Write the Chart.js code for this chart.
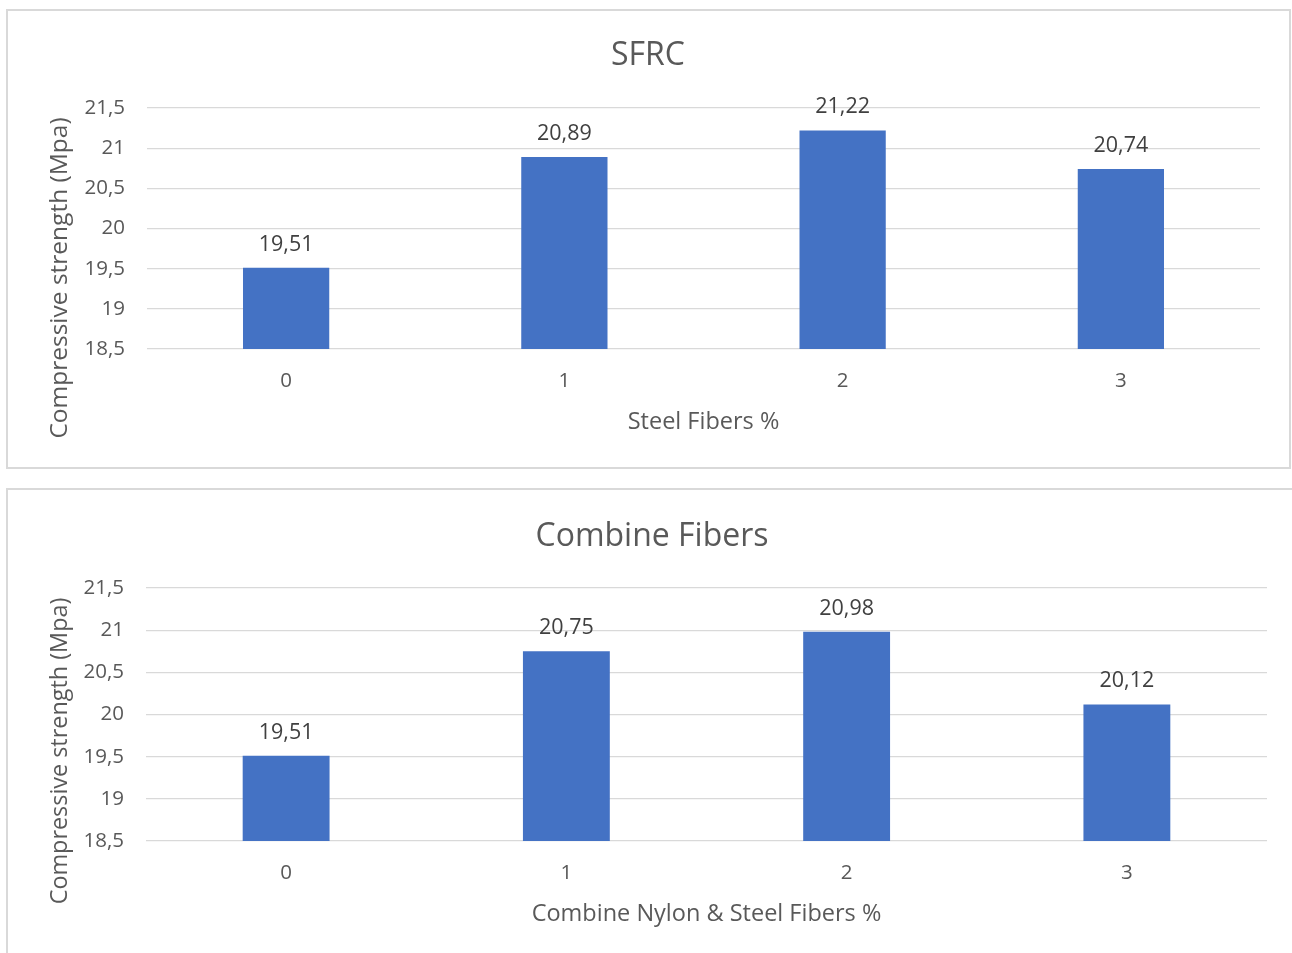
<!DOCTYPE html>
<html>
<head>
<meta charset="utf-8">
<script src="https://cdn.jsdelivr.net/npm/chart.js@4.4.1/dist/chart.umd.min.js"></script>
<style>
  html, body { margin: 0; padding: 0; background: #ffffff; }
  body { width: 1292px; height: 953px; position: relative; overflow: hidden; }
  .frame { position: absolute; border: 2px solid #d9d9d9; box-sizing: border-box; }
  .holder { position: absolute; }
</style>
</head>
<body>
<div class="frame" style="left:6px; top:9px; width:1285px; height:460px;"></div>
<div class="frame" style="left:6px; top:488px; width:1300px; height:480px;"></div>
<div class="holder" style="left:36px; top:0px; width:1256px; height:470px;"><canvas id="sfrc"></canvas></div>
<div class="holder" style="left:37px; top:488px; width:1255px; height:465px;"><canvas id="combined"></canvas></div>
<script>
// Fibre content (%) along the x axis
const fiberPercent = ['0', '1', '2', '3'];
// Compressive strength (MPa) for steel fibres only
const sfrcStrength = [19.51, 20.89, 21.22, 20.74];
// Compressive strength (MPa) for combined nylon & steel fibres
const combinedStrength = [19.51, 20.75, 20.98, 20.12];
// Value axis ticks
const strengthTicks = [18.5, 19, 19.5, 20, 20.5, 21, 21.5];

const FONT = "'Open Sans', 'DejaVu Sans', sans-serif";
const TEXT = '#595959';
const BAR = '#4472C4';

const commaNum = v => String(v).replace('.', ',');

// Value labels above each bar
const barValues = {
  id: 'barValues',
  afterDatasetsDraw(chart) {
    const ctx = chart.ctx;
    ctx.save();
    ctx.font = '21.5px ' + FONT;
    ctx.fillStyle = '#404040';
    ctx.textAlign = 'center';
    ctx.textBaseline = 'alphabetic';
    chart.data.datasets.forEach((ds, i) => {
      chart.getDatasetMeta(i).data.forEach((bar, j) => {
        ctx.fillText(commaNum(ds.data[j].toFixed(2)), bar.x, bar.y - 17);
      });
    });
    ctx.restore();
  }
};

// Rotated value-axis caption
const sideCaption = {
  id: 'sideCaption',
  afterDraw(chart, args, opts) {
    if (!opts.text) return;
    const ctx = chart.ctx;
    ctx.save();
    ctx.translate(opts.x, opts.y);
    ctx.rotate(-Math.PI / 2);
    ctx.font = opts.size + 'px ' + FONT;
    ctx.fillStyle = TEXT;
    ctx.textAlign = 'center';
    ctx.textBaseline = 'middle';
    ctx.fillText(opts.text, 0, 0);
    ctx.restore();
  }
};

function makeChart(id, title, values, xTitle, g) {
  return new Chart(document.getElementById(id), {
    type: 'bar',
    data: {
      labels: fiberPercent,
      datasets: [{ data: values, backgroundColor: BAR, borderWidth: 0,
                   categoryPercentage: 1, barPercentage: 0.31 }]
    },
    options: {
      responsive: true,
      maintainAspectRatio: false,
      animation: false,
      layout: { padding: { left: 0, right: g.right, top: 0, bottom: 0 } },
      plugins: {
        legend: { display: false },
        tooltip: { enabled: false },
        title: {
          display: true, text: title, color: TEXT,
          font: { family: FONT, size: 32, weight: 'normal', lineHeight: 1.2 },
          padding: { top: g.titleTop, bottom: g.titleBottom }
        },
        sideCaption: { text: 'Compressive strength (Mpa)', x: g.capX, y: g.capY, size: g.capSize }
      },
      scales: {
        x: {
          grid: { display: false, drawTicks: false },
          border: { display: false },
          ticks: { color: TEXT, font: { family: FONT, size: 20.5 }, padding: g.xTickPad },
          title: { display: true, text: xTitle, color: TEXT,
                   font: { family: FONT, size: 23.5, lineHeight: 1.2 },
                   padding: { top: 0, bottom: g.xTitleBottom } },
          afterFit: s => { s.height = g.xHeight; }
        },
        y: {
          min: 18.5, max: 21.5,
          afterBuildTicks: s => { s.ticks = strengthTicks.map(v => ({ value: v })); },
          grid: { color: '#d9d9d9', lineWidth: 1.3, drawTicks: false },
          border: { display: false },
          ticks: { color: TEXT, font: { family: FONT, size: 20.5 }, padding: 22,
                   callback: v => commaNum(v) },
          afterFit: s => { s.width = g.yWidth; }
        }
      }
    },
    plugins: [barValues, sideCaption]
  });
}

makeChart('sfrc', 'SFRC', sfrcStrength, 'Steel Fibers %', {
  right: 32, titleTop: 36.5, titleBottom: 33.1, yWidth: 111, xHeight: 121,
  xTickPad: 20, xTitleBottom: 34, capX: 24, capY: 278, capSize: 24.5
});

makeChart('combined', 'Combine Fibers', combinedStrength, 'Combine Nylon & Steel Fibers %', {
  right: 25, titleTop: 29.8, titleBottom: 31.8, yWidth: 109, xHeight: 112,
  xTickPad: 20, xTitleBottom: 25, capX: 23, capY: 263, capSize: 23.4
});
</script>
</body>
</html>
